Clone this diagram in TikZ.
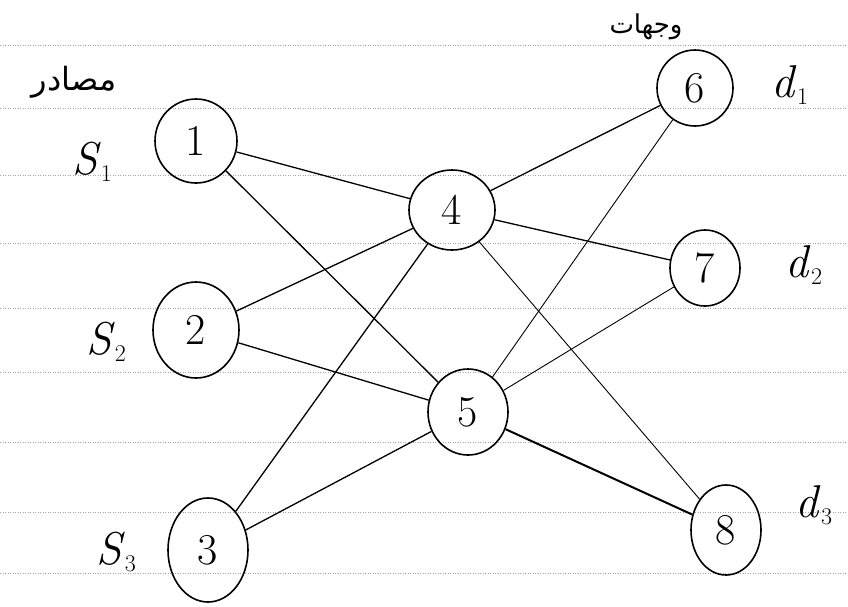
\documentclass[tikz,border=0pt]{standalone}
\usepackage{fontspec}
\usetikzlibrary{shapes.geometric}
\TeXXeTstate=1
\newfontfamily\arabicfont[Script=Arabic]{DejaVu Sans}
\newcommand{\sublabel}[2]{\textit{#1}\raisebox{-0.35ex}{\fontsize{24}{26}\selectfont #2}}
\begin{document}
\begin{tikzpicture}[x=1pt,y=-1pt,
  vertex/.style={draw, ellipse, line width=1.6pt, inner sep=0pt,
    font=\fontsize{44}{46}\selectfont},
  edge/.style={line width=1.3pt},
  thinedge/.style={line width=0.9pt},
  ruled/.style={gray!70, line width=0.8pt, dash pattern=on 1pt off 1.5pt},
  lbl/.style={font=\fontsize{46}{50}\selectfont, inner sep=0pt},
  note/.style={font=\arabicfont\fontsize{32}{34}\selectfont, inner sep=1pt}]
\useasboundingbox (0,0) rectangle (848,606);
\fill[white] (0,0) rectangle (848,606);

% ruled notebook lines
\foreach \yy in {45,108,175,243,308,372,442,512,573}
  \draw[ruled] (0,\yy) -- (848,\yy);

% vertices
\node[vertex, minimum width=82pt, minimum height=84pt] (n1) at (196,141) {1};
\node[vertex, minimum width=86pt, minimum height=96pt] (n2) at (196,330) {2};
\node[vertex, minimum width=80pt, minimum height=104pt] (n3) at (208,550) {3};
\node[vertex, minimum width=86pt, minimum height=80pt] (n4) at (452,210) {4};
\node[vertex, minimum width=80pt, minimum height=86pt] (n5) at (468,412) {5};
\node[vertex, minimum width=76pt, minimum height=76pt] (n6) at (695,88) {6};
\node[vertex, minimum width=70pt, minimum height=76pt] (n7) at (705,268) {7};
\node[vertex, minimum width=70pt, minimum height=90pt] (n8) at (726,530) {8};

% connections
\draw[edge] (n1) -- (n4);
\draw[edge] (n1) -- (n5);
\draw[edge] (n2) -- (n4);
\draw[edge] (n2) -- (n5);
\draw[edge] (n3) -- (n4);
\draw[edge] (n3) -- (n5);
\draw[edge] (n4) -- (n6);
\draw[edge] (n4) -- (n7);
\draw[thinedge] (n4) -- (n8);
\draw[thinedge] (n5) -- (n6);
\draw[thinedge] (n5) -- (n7);
\draw[line width=2pt] (n5) -- (n8);

% source and destination labels
\node[lbl] (s1) at (92,162) {\sublabel{S}{1}};
\node[lbl] (s2) at (106,342) {\sublabel{S}{2}};
\node[lbl] (s3) at (116,552) {\sublabel{S}{3}};
\node[lbl] (d1) at (790,85) {\sublabel{d}{1}};
\node[lbl] (d2) at (804,265) {\sublabel{d}{2}};
\node[lbl] (d3) at (814,505) {\sublabel{d}{3}};

% headings
\node[note] (src) at (74,82) {\beginR مصادر\endR};
\node[note, font=\arabicfont\fontsize{26}{28}\selectfont] (dst) at (646,27) {\beginR وجهات\endR};
\end{tikzpicture}
\end{document}
